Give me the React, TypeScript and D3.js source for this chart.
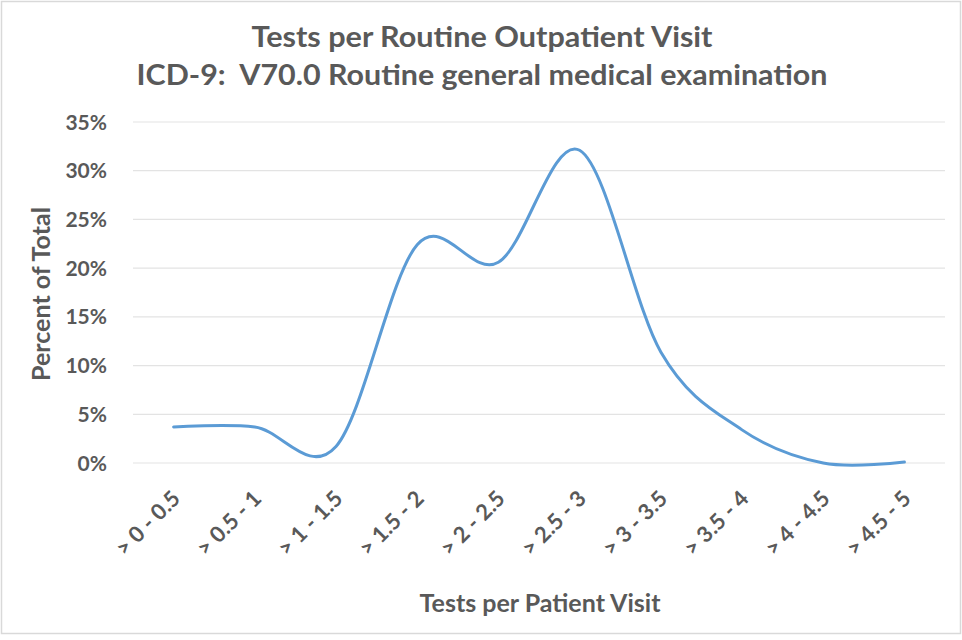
import React from "react";
import * as d3 from "d3";

const categories = ["> 0 - 0.5", "> 0.5 - 1", "> 1 - 1.5", "> 1.5 - 2", "> 2 - 2.5", "> 2.5 - 3", "> 3 - 3.5", "> 3.5 - 4", "> 4 - 4.5", "> 4.5 - 5"];
const percentValues = [3.7, 3.7, 1.7, 22.4, 20.6, 32.1, 11.4, 3.4, 0.0, 0.1];
const yTicks = [0, 5, 10, 15, 20, 25, 30, 35];
const titleLines = ["Tests per Routine Outpatient Visit", "ICD-9:  V70.0 Routine general medical examination"];
const xTitle = "Tests per Patient Visit";
const yTitle = "Percent of Total";

const W = 962, H = 640;
const plot = { left: 133, right: 945, top: 122, bottom: 463 };
const FONT = "Lato, 'Open Sans', sans-serif";
const TEXT = "#595959";

export default function App() {
  const x = d3.scaleBand<string>().domain(categories).range([plot.left, plot.right]);
  const y = d3.scaleLinear().domain([0, 35]).range([plot.bottom, plot.top]);
  const line = d3
    .line<number>()
    .x((_, i) => (x(categories[i]) as number) + x.bandwidth() / 2)
    .y((d) => y(d))
    .curve(d3.curveCardinal.tension(0));

  const titleWidths = [461, 691];

  return (
    <svg width={W} height={H} style={{ position: "absolute", left: 0, top: 0, background: "#fff" }}>
      <rect x={1.5} y={1.5} width={W - 3} height={H - 8} fill="#fff" stroke="#d9d9d9" strokeWidth={1.5} />
      {titleLines.map((t, i) => (
        <text
          key={i}
          x={482}
          y={47 + i * 38}
          textAnchor="middle"
          fontFamily={FONT}
          fontWeight={700}
          fontSize={28}
          fill={TEXT}
          textLength={titleWidths[i]}
          lengthAdjust="spacingAndGlyphs"
          style={{ whiteSpace: "pre" }}
        >
          {t}
        </text>
      ))}
      {yTicks.map((t) => (
        <g key={t}>
          <line x1={plot.left} x2={plot.right} y1={y(t)} y2={y(t)} stroke="#e3e3e3" strokeWidth={1.2} />
          <text x={107} y={y(t) + 7.5} textAnchor="end" fontFamily={FONT} fontWeight={700} fontSize={21} fill={TEXT}>
            {t}%
          </text>
        </g>
      ))}
      {categories.map((c) => {
        const cx = (x(c) as number) + x.bandwidth() / 2;
        return (
          <text
            key={c}
            transform={`translate(${cx + 8},${500}) rotate(-45)`}
            textAnchor="end"
            fontFamily={FONT}
            fontWeight={700}
            fontSize={22}
            fill={TEXT}
          >
            {c}
          </text>
        );
      })}
      <path d={line(percentValues) || ""} fill="none" stroke="#5b9bd5" strokeWidth={3} strokeLinecap="round" />
      <text x={540} y={612} textAnchor="middle" fontFamily={FONT} fontWeight={700} fontSize={25} fill={TEXT}>
        {xTitle}
      </text>
      <text transform={`translate(50,294) rotate(-90)`} textAnchor="middle" fontFamily={FONT} fontWeight={700} fontSize={25} fill={TEXT}>
        {yTitle}
      </text>
    </svg>
  );
}
